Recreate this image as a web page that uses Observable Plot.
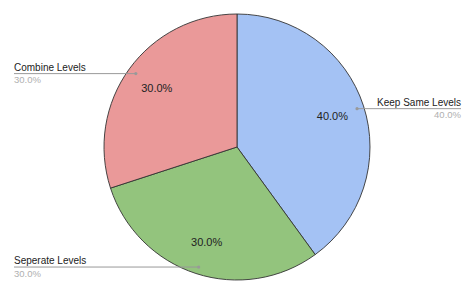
<!DOCTYPE html>
<html>
<head>
<meta charset="utf-8">
<script src="https://cdn.jsdelivr.net/npm/d3@7"></script>
<script src="https://cdn.jsdelivr.net/npm/@observablehq/plot@0.6"></script>
<style>
  html, body { margin: 0; padding: 0; background: #fff; }
</style>
</head>
<body>
<div id="chart"></div>
<script>
const categories = ["Keep Same Levels", "Seperate Levels", "Combine Levels"];
const values = [40, 30, 30];
const percentLabels = ["40.0%", "30.0%", "30.0%"];
const colors = ["#a4c2f4", "#93c47d", "#ea9999"];

const W = 475, H = 294;
const cxPx = 237, cyPx = 147, rPx = 133, edgeMargin = 14;

const arcs = d3.pie().sort(null).value(d => d)(values);
const rows = arcs.map((a, i) => {
  const mid = (a.startAngle + a.endAngle) / 2;
  const sx = Math.sin(mid), sy = Math.cos(mid);
  const side = sx < 0 ? -1 : 1;
  const edge = side * ((W / 2 - edgeMargin) / rPx);
  return {
    name: categories[i], pct: percentLabels[i], color: colors[i],
    ix: 0.75 * sx, iy: 0.75 * sy,
    dx: 0.945 * sx, dy: 0.945 * sy,
    ex: edge, side
  };
});
const leftRows = rows.filter(d => d.side < 0);
const rightRows = rows.filter(d => d.side > 0);

const xDomain = [-cxPx / rPx, (W - cxPx) / rPx];
const yDomain = [-(H - cyPx) / rPx, cyPx / rPx];

const pieMark = (index, scales) => {
  const {x, y} = scales;
  const cx = x(0), cy = y(0), r = x(1) - x(0);
  const g = d3.create("svg:g").attr("transform", `translate(${cx},${cy})`);
  const arc = d3.arc().innerRadius(0).outerRadius(r);
  g.selectAll("path").data(arcs).join("path")
    .attr("d", arc)
    .attr("fill", d => colors[d.index])
    .attr("stroke", "#333")
    .attr("stroke-width", 0.9)
    .attr("stroke-linejoin", "round");
  return g.node();
};

const labelMarks = (data, anchor) => [
  Plot.text(data, {x: "ex", y: "dy", text: "name", dy: -6, fontSize: 10, fill: "#222", textAnchor: anchor}),
  Plot.text(data, {x: "ex", y: "dy", text: "pct", dy: 6.5, fontSize: 9.5, fill: "#b0b0b0", textAnchor: anchor})
];

const chart = Plot.plot({
  width: W, height: H,
  margin: 0,
  x: {domain: xDomain, axis: null},
  y: {domain: yDomain, axis: null},
  style: {fontFamily: "Arial, 'Liberation Sans', sans-serif", background: "#fff"},
  marks: [
    pieMark,
    Plot.text(rows, {x: "ix", y: "iy", text: "pct", fontSize: 11, fill: "#222"}),
    Plot.link(rows, {x1: "dx", y1: "dy", x2: "ex", y2: "dy", stroke: "#999", strokeWidth: 1}),
    Plot.dot(rows, {x: "dx", y: "dy", r: 1.6, fill: "#999", stroke: "none"}),
    ...labelMarks(leftRows, "start"),
    ...labelMarks(rightRows, "end")
  ]
});
document.getElementById("chart").appendChild(chart);
</script>
</body>
</html>
